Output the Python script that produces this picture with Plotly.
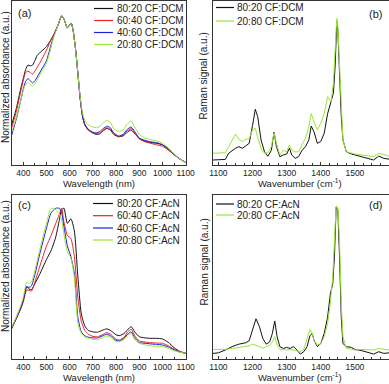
import plotly.graph_objects as go

# ---- absorption, CF:DCM (a) ----
wl_a = [350, 370, 390, 400, 410, 420, 430, 440, 450, 460, 480, 500, 515, 530, 550, 565, 575,
        590, 600, 607, 615, 625, 635, 645, 655, 665, 680, 700, 715, 730, 745, 760, 775, 790,
        810, 830, 845, 865, 880, 900, 925, 950, 975, 1000, 1025, 1050, 1075, 1100]
a_8020 = [0.27, 0.38, 0.52, 0.58, 0.64, 0.67, 0.665, 0.67, 0.70, 0.735, 0.765, 0.795, 0.83, 0.87, 0.94, 1.0, 0.98,
          0.92, 0.94, 0.95, 0.90, 0.78, 0.62, 0.45, 0.33, 0.27, 0.235, 0.215, 0.205, 0.21, 0.23, 0.245, 0.235, 0.205,
          0.19, 0.195, 0.215, 0.235, 0.21, 0.18, 0.16, 0.15, 0.145, 0.135, 0.11, 0.07, 0.04, 0.018]
a_6040 = [0.25, 0.36, 0.50, 0.57, 0.62, 0.63, 0.62, 0.61, 0.63, 0.655, 0.71, 0.77, 0.825, 0.87, 0.94, 1.0, 0.98,
          0.92, 0.94, 0.95, 0.90, 0.78, 0.62, 0.45, 0.33, 0.27, 0.235, 0.215, 0.21, 0.215, 0.235, 0.25, 0.24, 0.21,
          0.19, 0.20, 0.225, 0.245, 0.215, 0.175, 0.155, 0.145, 0.135, 0.125, 0.10, 0.07, 0.04, 0.018]
a_4060 = [0.20, 0.31, 0.44, 0.51, 0.56, 0.58, 0.565, 0.55, 0.565, 0.59, 0.645, 0.70, 0.78, 0.86, 0.94, 1.0, 0.98,
          0.92, 0.94, 0.95, 0.90, 0.78, 0.62, 0.45, 0.33, 0.275, 0.24, 0.22, 0.215, 0.225, 0.245, 0.26, 0.25, 0.215,
          0.195, 0.205, 0.235, 0.255, 0.225, 0.18, 0.165, 0.155, 0.15, 0.135, 0.105, 0.07, 0.04, 0.018]
a_2080 = [0.22, 0.32, 0.44, 0.50, 0.54, 0.555, 0.54, 0.53, 0.545, 0.57, 0.63, 0.685, 0.76, 0.85, 0.94, 1.0, 0.98,
          0.92, 0.94, 0.95, 0.90, 0.78, 0.62, 0.46, 0.35, 0.30, 0.27, 0.255, 0.25, 0.26, 0.285, 0.30, 0.285, 0.245,
          0.225, 0.235, 0.27, 0.295, 0.255, 0.205, 0.18, 0.17, 0.16, 0.145, 0.115, 0.075, 0.04, 0.018]

# ---- absorption, CF:AcN (c) ----
wl_c = [350, 370, 390, 400, 410, 415, 425, 435, 450, 470, 500, 520, 540, 555, 565, 575, 590, 605, 620,
        635, 650, 665, 680, 700, 720, 740, 760, 780, 800, 815, 835, 850, 865, 880, 900, 925, 950, 975,
        1000, 1025, 1050, 1075, 1100]
c_8020 = [0.20, 0.27, 0.34, 0.39, 0.46, 0.48, 0.465, 0.46, 0.50, 0.56, 0.66, 0.72, 0.81, 0.92, 0.99, 1.0, 0.90, 0.93, 0.85,
          0.55, 0.30, 0.22, 0.19, 0.18, 0.178, 0.19, 0.20, 0.185, 0.16, 0.155, 0.17, 0.195, 0.215, 0.18, 0.148, 0.14, 0.137, 0.137,
          0.133, 0.11, 0.075, 0.05, 0.038]
c_6040 = [0.21, 0.27, 0.34, 0.38, 0.44, 0.46, 0.455, 0.45, 0.51, 0.61, 0.75, 0.82, 0.90, 0.96, 1.0, 0.91, 0.82, 0.80, 0.68,
          0.41, 0.25, 0.19, 0.165, 0.15, 0.148, 0.16, 0.175, 0.16, 0.13, 0.126, 0.145, 0.18, 0.197, 0.155, 0.12, 0.112, 0.108, 0.106,
          0.104, 0.088, 0.065, 0.048, 0.038]
c_4060 = [0.21, 0.27, 0.34, 0.39, 0.46, 0.48, 0.475, 0.485, 0.56, 0.69, 0.87, 0.97, 1.0, 1.0, 0.97, 0.88, 0.75, 0.68, 0.57,
          0.28, 0.18, 0.155, 0.145, 0.14, 0.14, 0.152, 0.164, 0.15, 0.123, 0.12, 0.14, 0.165, 0.18, 0.14, 0.11, 0.104, 0.10, 0.097,
          0.093, 0.08, 0.06, 0.046, 0.038]
c_2080 = [0.21, 0.28, 0.36, 0.41, 0.49, 0.51, 0.50, 0.51, 0.59, 0.72, 0.90, 1.0, 0.99, 0.965, 0.92, 0.83, 0.71, 0.67, 0.54,
          0.24, 0.17, 0.145, 0.137, 0.13, 0.128, 0.14, 0.153, 0.138, 0.117, 0.115, 0.13, 0.155, 0.17, 0.13, 0.104, 0.093, 0.087, 0.085,
          0.082, 0.07, 0.055, 0.045, 0.038]

# ---- Raman, CF:DCM (b) ----
wn_b = [1084, 1100, 1120, 1130, 1140, 1150, 1160, 1170, 1180, 1190, 1200, 1208, 1215, 1225, 1235, 1245, 1255,
        1263, 1270, 1280, 1290, 1300, 1308, 1315, 1325, 1335, 1345, 1355, 1365, 1372, 1380, 1390, 1400, 1410,
        1420, 1430, 1437, 1442, 1447, 1450, 1455, 1460, 1465, 1475, 1490, 1500, 1520, 1540, 1555, 1570, 1585, 1600]
b_8020 = [0.034, 0.034, 0.038, 0.08, 0.10, 0.114, 0.125, 0.114, 0.13, 0.148, 0.27, 0.38, 0.33, 0.17, 0.09, 0.06, 0.10,
          0.225, 0.125, 0.057, 0.068, 0.075, 0.114, 0.068, 0.045, 0.057, 0.10, 0.125, 0.17, 0.266, 0.227, 0.148, 0.16, 0.216,
          0.35, 0.44, 0.49, 0.67, 0.98, 0.92, 0.625, 0.33, 0.17, 0.09, 0.075, 0.068, 0.057, 0.045, 0.034, 0.061, 0.045, 0.04]
b_2080 = [0.08, 0.08, 0.084, 0.125, 0.17, 0.21, 0.175, 0.16, 0.175, 0.18, 0.24, 0.25, 0.19, 0.11, 0.08, 0.084, 0.125,
          0.22, 0.148, 0.068, 0.10, 0.09, 0.136, 0.10, 0.09, 0.09, 0.14, 0.18, 0.26, 0.35, 0.295, 0.24, 0.284, 0.35,
          0.466, 0.43, 0.56, 0.78, 1.0, 0.94, 0.67, 0.35, 0.17, 0.09, 0.08, 0.075, 0.068, 0.061, 0.057, 0.08, 0.068, 0.061]

# ---- Raman, CF:AcN (d) ----
wn_d = [1084, 1100, 1120, 1140, 1160, 1180, 1190, 1200, 1210, 1220, 1230, 1240, 1250, 1258, 1265, 1272, 1280,
        1290, 1300, 1310, 1320, 1330, 1340, 1350, 1360, 1368, 1375, 1380, 1390, 1400, 1410, 1420, 1428, 1435,
        1440, 1445, 1450, 1455, 1460, 1465, 1475, 1490, 1500, 1520, 1540, 1555, 1570, 1585, 1600]
d_8020 = [0.036, 0.04, 0.058, 0.08, 0.096, 0.105, 0.118, 0.197, 0.26, 0.21, 0.133, 0.096, 0.11, 0.165, 0.246, 0.143, 0.08,
          0.068, 0.075, 0.068, 0.08, 0.058, 0.032, 0.047, 0.08, 0.15, 0.165, 0.122, 0.08, 0.10, 0.165, 0.27, 0.42, 0.486,
          0.66, 0.98, 0.96, 0.66, 0.27, 0.10, 0.08, 0.075, 0.062, 0.054, 0.04, 0.032, 0.047, 0.036, 0.04]
d_2080 = [0.062, 0.062, 0.062, 0.068, 0.075, 0.08, 0.085, 0.096, 0.09, 0.08, 0.07, 0.08, 0.09, 0.11, 0.143, 0.09, 0.062,
          0.062, 0.058, 0.062, 0.058, 0.054, 0.047, 0.062, 0.133, 0.19, 0.165, 0.12, 0.09, 0.10, 0.143, 0.23, 0.36, 0.53,
          0.76, 0.99, 0.98, 0.76, 0.36, 0.143, 0.07, 0.062, 0.058, 0.062, 0.062, 0.058, 0.068, 0.062, 0.058]

dcm_names = ["80:20 CF:DCM", "60:40 CF:DCM", "40:60 CF:DCM", "20:80 CF:DCM"]
acn_names = ["80:20 CF:AcN", "60:40 CF:AcN", "40:60 CF:AcN", "20:80 CF:AcN"]
colors = ["#111111", "#ee2020", "#2020dd", "#99e633"]

fig = go.Figure()

for ys, name, col in zip([a_8020, a_6040, a_4060, a_2080], dcm_names, colors):
    fig.add_trace(go.Scatter(x=wl_a, y=ys, mode="lines", line=dict(color=col, width=1, shape="spline", smoothing=0.6),
                             xaxis="x", yaxis="y", showlegend=False))
for ys, name, col in zip([c_8020, c_6040, c_4060, c_2080], acn_names, colors):
    fig.add_trace(go.Scatter(x=wl_c, y=ys, mode="lines", line=dict(color=col, width=1, shape="spline", smoothing=0.6),
                             xaxis="x3", yaxis="y3", showlegend=False))
for ys, col in zip([b_8020, b_2080], [colors[0], colors[3]]):
    fig.add_trace(go.Scatter(x=wn_b, y=ys, mode="lines", line=dict(color=col, width=1),
                             xaxis="x2", yaxis="y2", showlegend=False))
for ys, col in zip([d_8020, d_2080], [colors[0], colors[3]]):
    fig.add_trace(go.Scatter(x=wn_d, y=ys, mode="lines", line=dict(color=col, width=1),
                             xaxis="x4", yaxis="y4", showlegend=False))

W, H = 389, 384
left_dom = [11.7 / W, 185.7 / W]
right_dom = [213 / W, 1.0]
top_dom = [1 - 165 / H, 1 - 1 / H]
bot_dom = [1 - 359 / H, 1 - 195 / H]

tickfont = dict(family="Liberation Sans, Arial", size=8.5, color="#222")
common_x = dict(showline=True, linecolor="#333", linewidth=1, mirror=True, ticks="inside", ticklen=3,
                tickcolor="#333", tickfont=tickfont, showgrid=False, zeroline=False, automargin=False)
common_y = dict(showline=True, linecolor="#333", linewidth=1, mirror=True, ticks="", showticklabels=False,
                showgrid=False, zeroline=False, automargin=False)

fig.update_layout(
    template="none",
    width=W, height=H, margin=dict(l=0, r=0, t=0, b=0),
    paper_bgcolor="white", plot_bgcolor="white", showlegend=False,
    xaxis=dict(common_x, domain=left_dom, range=[350, 1100], dtick=100, tick0=0, anchor="y",
               minor=dict(ticks="inside", ticklen=2, tickcolor="#333", dtick=50)),
    yaxis=dict(common_y, domain=top_dom, range=[0, 1.10], anchor="x"),
    xaxis2=dict(common_x, domain=right_dom, range=[1084, 1600], dtick=100, tick0=0, anchor="y2",
                tickvals=[1100, 1200, 1300, 1400, 1500],
                minor=dict(ticks="inside", ticklen=2, tickcolor="#333", dtick=25)),
    yaxis2=dict(common_y, domain=top_dom, range=[0, 1.118], anchor="x2"),
    xaxis3=dict(common_x, domain=left_dom, range=[350, 1100], dtick=100, tick0=0, anchor="y3",
                minor=dict(ticks="inside", ticklen=2, tickcolor="#333", dtick=50)),
    yaxis3=dict(common_y, domain=bot_dom, range=[0, 1.088], anchor="x3"),
    xaxis4=dict(common_x, domain=right_dom, range=[1084, 1600], dtick=100, tick0=0, anchor="y4",
                tickvals=[1100, 1200, 1300, 1400, 1500],
                minor=dict(ticks="inside", ticklen=2, tickcolor="#333", dtick=25)),
    yaxis4=dict(common_y, domain=bot_dom, range=[0, 1.06], anchor="x4"),
)

font = dict(family="Liberation Sans, Arial", size=10, color="#222")
titlefont = dict(family="Liberation Sans, Arial", size=9.5, color="#222")


def ann(x, y, text, f, xanchor="center", **kw):
    fig.add_annotation(x=x / W, y=1 - y / H, xref="paper", yref="paper", text=text, showarrow=False,
                       font=f, xanchor=xanchor, yanchor="middle", **kw)


# axis titles
ann(98.7, 183, "Wavelength (nm)", titlefont)
ann(98.7, 377, "Wavelength (nm)", titlefont)
ann(300, 183, "Wavenumber (cm<sup>-1</sup>)", titlefont)
ann(300, 377, "Wavenumber (cm<sup>-1</sup>)", titlefont)
ann(5, 77, "Normalized absorbance (a.u.)", font, textangle=-90)
ann(5, 266, "Normalized absorbance (a.u.)", font, textangle=-90)
ann(203.5, 76, "Raman signal (a.u.)", font, textangle=-90)
ann(203.5, 262, "Raman signal (a.u.)", font, textangle=-90)

# panel labels
lab = dict(family="Liberation Sans, Arial", size=11, color="#222")
ann(24.5, 13, "(a)", lab)
ann(375, 14, "(b)", lab)
ann(24.5, 205, "(c)", lab)
ann(375, 205, "(d)", lab)


# hand-placed legends
def legend(x0, x1, xt, rows, names, cols):
    for yy, name, col in zip(rows, names, cols):
        fig.add_shape(type="line", xref="paper", yref="paper", x0=x0 / W, x1=x1 / W,
                      y0=1 - yy / H, y1=1 - yy / H, line=dict(color=col, width=1.2))
        ann(xt, yy, name, font, xanchor="left")


legend(94, 113, 115, [8.5, 20.5, 32.5, 44.5], dcm_names, colors)
legend(93, 113, 115, [203.5, 215.7, 228, 240], acn_names, colors)
legend(216, 234, 235, [7.5, 21], [dcm_names[0], dcm_names[3]], [colors[0], colors[3]])
legend(216, 234, 235, [204, 215], [acn_names[0], acn_names[3]], [colors[0], colors[3]])

# the page body has a default margin; drop it so the figure sits at the window corner
fig.write_html("out.html", config={"displayModeBar": False},
               post_script="document.body.style.margin='0';")
